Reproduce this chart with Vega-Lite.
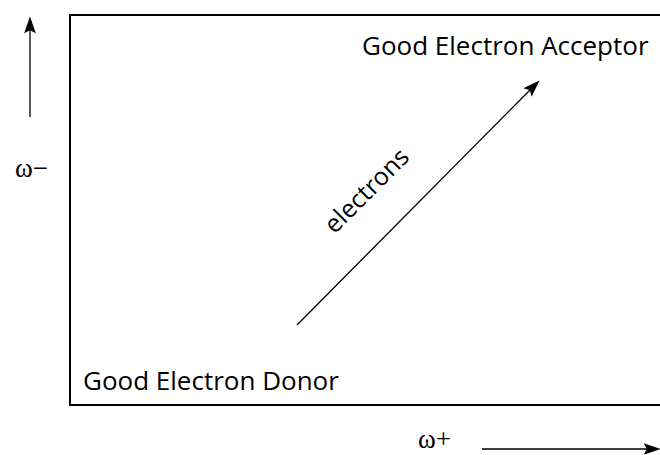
{
  "$schema": "https://vega.github.io/schema/vega-lite/v6.json",
  "width": 660,
  "height": 455,
  "autosize": "none",
  "padding": 0,
  "background": "white",
  "config": {"view": {"stroke": null}},
  "datasets": {
    "box": [{"x1": 70, "x2": 664, "y1": 15, "y2": 405}],
    "lines": [
      {"name": "diag", "x1": 297, "y1": 325, "x2": 530, "y2": 90},
      {"name": "left", "x1": 30, "y1": 117, "x2": 30, "y2": 30},
      {"name": "bottom", "x1": 482, "y1": 449, "x2": 647, "y2": 449}
    ],
    "headDiag": [{"x": 532, "y": 88}],
    "headUp": [{"x": 30, "y": 27}],
    "headRight": [{"x": 650, "y": 449}],
    "labels": [
      {"label": "Good Electron Acceptor", "x": 362, "y": 55},
      {"label": "Good Electron Donor", "x": 83, "y": 390}
    ],
    "omega": [
      {"label": "ω−", "x": 15, "y": 169},
      {"label": "ω+", "x": 418, "y": 440}
    ],
    "electrons": [{"label": "electrons", "x": 367, "y": 191}]
  },
  "layer": [
    {
      "data": {"name": "box"},
      "mark": {"type": "rect", "fill": null, "stroke": "black", "strokeWidth": 2, "clip": false},
      "encoding": {
        "x": {"field": "x1", "type": "quantitative", "scale": {"domain": [0, 660], "nice": false, "zero": false}, "axis": null},
        "x2": {"field": "x2"},
        "y": {"field": "y1", "type": "quantitative", "scale": {"domain": [0, 455], "reverse": true, "nice": false, "zero": false}, "axis": null},
        "y2": {"field": "y2"}
      }
    },
    {
      "data": {"name": "lines"},
      "mark": {"type": "rule", "stroke": "black", "strokeWidth": 1.3},
      "encoding": {
        "x": {"field": "x1", "type": "quantitative"},
        "x2": {"field": "x2"},
        "y": {"field": "y1", "type": "quantitative"},
        "y2": {"field": "y2"}
      }
    },
    {
      "data": {"name": "headDiag"},
      "mark": {"type": "point", "shape": "M0,-1 L0.55,0.6 L0,0.3 L-0.55,0.6 Z", "filled": true, "color": "black", "opacity": 1, "size": 450, "angle": 45},
      "encoding": {"x": {"field": "x", "type": "quantitative"}, "y": {"field": "y", "type": "quantitative"}}
    },
    {
      "data": {"name": "headUp"},
      "mark": {"type": "point", "shape": "M0,-1 L0.55,0.6 L0,0.3 L-0.55,0.6 Z", "filled": true, "color": "black", "opacity": 1, "size": 450, "angle": 0},
      "encoding": {"x": {"field": "x", "type": "quantitative"}, "y": {"field": "y", "type": "quantitative"}}
    },
    {
      "data": {"name": "headRight"},
      "mark": {"type": "point", "shape": "M0,-1 L0.55,0.6 L0,0.3 L-0.55,0.6 Z", "filled": true, "color": "black", "opacity": 1, "size": 450, "angle": 90},
      "encoding": {"x": {"field": "x", "type": "quantitative"}, "y": {"field": "y", "type": "quantitative"}}
    },
    {
      "data": {"name": "labels"},
      "mark": {"type": "text", "align": "left", "baseline": "alphabetic", "font": "Open Sans", "fontSize": 26, "color": "black"},
      "encoding": {"x": {"field": "x", "type": "quantitative"}, "y": {"field": "y", "type": "quantitative"}, "text": {"field": "label"}}
    },
    {
      "data": {"name": "omega"},
      "mark": {"type": "text", "align": "left", "baseline": "middle", "font": "Liberation Serif", "fontSize": 27, "color": "black"},
      "encoding": {"x": {"field": "x", "type": "quantitative"}, "y": {"field": "y", "type": "quantitative"}, "text": {"field": "label"}}
    },
    {
      "data": {"name": "electrons"},
      "mark": {"type": "text", "align": "center", "baseline": "middle", "font": "Open Sans", "fontSize": 25, "angle": 315, "color": "black"},
      "encoding": {"x": {"field": "x", "type": "quantitative"}, "y": {"field": "y", "type": "quantitative"}, "text": {"field": "label"}}
    }
  ]
}
